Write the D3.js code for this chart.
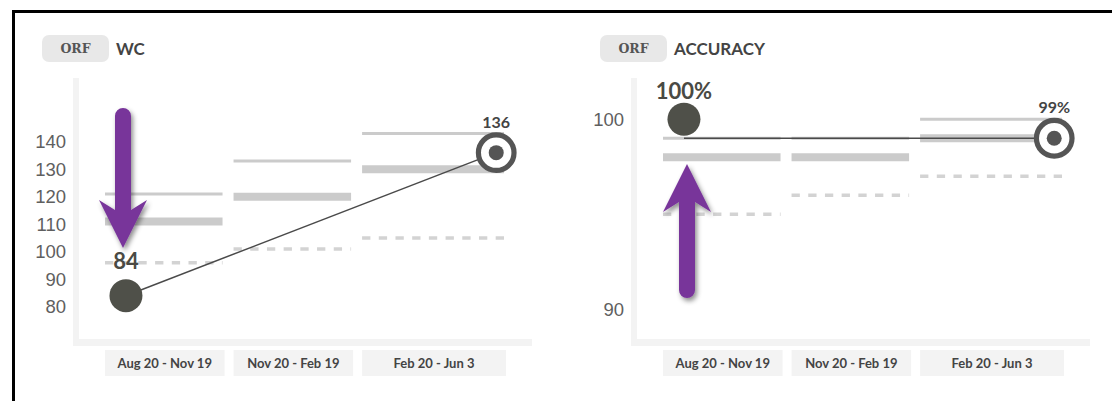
<!DOCTYPE html>
<html>
<head>
<meta charset="utf-8">
<script src="https://cdn.jsdelivr.net/npm/d3@7"></script>
<style>
  html, body { margin: 0; padding: 0; background: #fff; overflow: hidden; }
  svg { display: block; }
</style>
</head>
<body>
<div id="chart"></div>
<script>
// periods shown under both charts
const periods = ["Aug 20 - Nov 19", "Nov 20 - Feb 19", "Feb 20 - Jun 3"];
const periodStarts = ["2018-08-20", "2018-11-20", "2019-02-20"];
const periodEnd = "2019-06-03";
const scoreDates = ["2018-09-04", "2019-05-27"];

// WC (words correct) benchmarks per period
const wcHigh = [121, 133, 143];
const wcMid = [111, 120, 130];
const wcLow = [96, 101, 105];
const wcScores = [84, 136];
const wcTrend = [84, 136];
const wcTicks = [80, 90, 100, 110, 120, 130, 140];

// accuracy benchmarks per period
const accHigh = [99, 99, 100];
const accMid = [98, 98, 99];
const accLow = [95, 96, 97];
const accScores = [100, 99];
const accTrend = [99, 99];
const accTicks = [90, 100];

const width = 1112, height = 401;
const parse = d3.timeParse("%Y-%m-%d");

const svg = d3.select("#chart").append("svg")
    .attr("width", width)
    .attr("height", height);

// drop shadow for the purple arrows
const defs = svg.append("defs");
defs.append("filter")
    .attr("id", "shadow")
    .attr("x", "-50%").attr("y", "-20%")
    .attr("width", "200%").attr("height", "140%")
    .append("feDropShadow")
    .attr("dx", 2).attr("dy", 3)
    .attr("stdDeviation", 2.5)
    .attr("flood-color", "#000")
    .attr("flood-opacity", 0.45);

// frame, only left + top edges are in the picture
svg.append("path")
    .attr("d", "M13.5," + height + "V11.5H" + width)
    .attr("fill", "none")
    .attr("stroke", "#000")
    .attr("stroke-width", 3);

function drawChart(ox, cfg) {
    const g = svg.append("g").attr("transform", "translate(" + ox + ",0)");

    // header pill + title
    g.append("rect")
        .attr("x", 42).attr("y", 35)
        .attr("width", 67).attr("height", 27)
        .attr("rx", 7)
        .attr("fill", "#e8e8e8");
    g.append("text")
        .attr("x", 75.5).attr("y", 53)
        .attr("text-anchor", "middle")
        .style("font-family", "'DejaVu Serif', serif")
        .style("font-weight", "bold")
        .style("font-size", "12.5px")
        .style("fill", "#555")
        .text("ORF");
    g.append("text")
        .attr("x", 116).attr("y", 55)
        .style("font-family", "Lato, sans-serif")
        .style("font-weight", "bold")
        .style("font-size", "17px")
        .style("fill", "#444")
        .text(cfg.title);

    const x = d3.scaleTime()
        .domain([parse(periodStarts[0]), parse(periodEnd)])
        .range([105, 506]);
    const y = d3.scaleLinear()
        .domain(cfg.domain)
        .range([339, 78]);

    // axis bars
    g.append("rect")
        .attr("x", 73).attr("y", 78)
        .attr("width", 6).attr("height", 268)
        .attr("fill", "#f3f3f3");
    g.append("rect")
        .attr("x", 73).attr("y", 339)
        .attr("width", 459).attr("height", 7)
        .attr("fill", "#f3f3f3");

    // y tick labels
    g.selectAll("text.tick")
        .data(cfg.ticks)
        .enter().append("text")
        .attr("class", "tick")
        .attr("x", 66)
        .attr("y", d => y(d))
        .attr("dy", "0.36em")
        .attr("text-anchor", "end")
        .style("font-family", "'Liberation Sans', Arial, sans-serif")
        .style("font-size", "18.5px")
        .style("fill", "#5f5f5f")
        .text(d => d);

    // period extents
    const bands = periods.map(function(p, i) {
        const x0 = x(parse(periodStarts[i]));
        const x1 = i < periods.length - 1 ? x(parse(periodStarts[i + 1])) - 9 : x(parse(periodEnd));
        return { label: p, x0: x0, x1: x1, i: i };
    });

    // period label boxes
    const lab = g.selectAll("g.period")
        .data(bands)
        .enter().append("g")
        .attr("class", "period");
    lab.append("rect")
        .attr("x", d => d.x0)
        .attr("y", 350)
        .attr("width", d => d.x1 - d.x0)
        .attr("height", 26)
        .attr("fill", "#f3f3f3");
    lab.append("text")
        .attr("x", d => (d.x0 + d.x1) / 2)
        .attr("y", 367.5)
        .attr("text-anchor", "middle")
        .style("font-family", "Lato, sans-serif")
        .style("font-weight", "bold")
        .style("font-size", "13px")
        .style("fill", "#444")
        .text(d => d.label);

    // benchmark lines
    const bl = g.selectAll("g.bench")
        .data(bands)
        .enter().append("g")
        .attr("class", "bench");
    bl.append("line")
        .attr("x1", d => d.x0).attr("x2", d => d.x1 - 2)
        .attr("y1", d => y(cfg.high[d.i])).attr("y2", d => y(cfg.high[d.i]))
        .attr("stroke", "#cbcbcb")
        .attr("stroke-width", 3);
    bl.append("line")
        .attr("x1", d => d.x0).attr("x2", d => d.x1 - 2)
        .attr("y1", d => y(cfg.mid[d.i])).attr("y2", d => y(cfg.mid[d.i]))
        .attr("stroke", "#cbcbcb")
        .attr("stroke-width", 8);
    bl.append("line")
        .attr("x1", d => d.x0).attr("x2", d => d.x1 - 2)
        .attr("y1", d => y(cfg.low[d.i])).attr("y2", d => y(cfg.low[d.i]))
        .attr("stroke", "#d3d3d3")
        .attr("stroke-width", 3.5)
        .attr("stroke-dasharray", "8.3,8.4");

    // trend line
    const line = d3.line()
        .x((d, i) => x(parse(scoreDates[i])))
        .y(d => y(d));
    g.append("path")
        .datum(cfg.trend)
        .attr("d", line)
        .attr("fill", "none")
        .attr("stroke", "#4a4a4a")
        .attr("stroke-width", 1.5);

    // first score: filled dot
    const fx = x(parse(scoreDates[0])), fy = y(cfg.scores[0]);
    g.append("circle")
        .attr("cx", fx).attr("cy", fy)
        .attr("r", 16.5)
        .attr("fill", "#4f5049");
    g.append("text")
        .attr("x", fx).attr("y", fy + cfg.firstDy)
        .attr("text-anchor", "middle")
        .style("font-family", "Lato, sans-serif")
        .style("font-weight", "bold")
        .style("font-size", "22px")
        .style("fill", "#4a4a44")
        .text(cfg.fmt(cfg.scores[0]));

    // latest score: ring
    const lx = x(parse(scoreDates[1])), ly = y(cfg.scores[1]);
    g.append("circle")
        .attr("cx", lx).attr("cy", ly)
        .attr("r", 17.8)
        .attr("fill", "#fff")
        .attr("stroke", "#555")
        .attr("stroke-width", 5.2);
    g.append("circle")
        .attr("cx", lx).attr("cy", ly)
        .attr("r", 7.5)
        .attr("fill", "#555");
    g.append("text")
        .attr("x", lx).attr("y", ly - 25)
        .attr("text-anchor", "middle")
        .style("font-family", "Lato, sans-serif")
        .style("font-weight", "bold")
        .style("font-size", "16px")
        .style("fill", "#444")
        .text(cfg.fmt(cfg.scores[1]));

    // purple annotation arrow
    const a = cfg.arrow;
    g.append("path")
        .attr("d", arrowPath(a.cx, a.tail, a.tip))
        .attr("fill", "#78349a")
        .attr("filter", "url(#shadow)");
}

// arrow from tail to tip along a vertical line
function arrowPath(cx, tail, tip) {
    const dir = tip > tail ? 1 : -1;
    const hw = 8, wing = 24, headLen = 48, notch = 10;
    const wingY = tip - dir * headLen;
    const joinY = wingY + dir * notch;
    const capY = tail + dir * hw;
    const p = d3.path();
    p.moveTo(cx - hw, capY);
    p.arc(cx, capY, hw, Math.PI, 0, dir > 0 ? false : true);
    p.lineTo(cx + hw, joinY);
    p.lineTo(cx + wing, wingY);
    p.lineTo(cx, tip);
    p.lineTo(cx - wing, wingY);
    p.lineTo(cx - hw, joinY);
    p.closePath();
    return p.toString();
}

drawChart(0, {
    title: "WC",
    domain: [68.25, 163.15],
    ticks: wcTicks,
    high: wcHigh, mid: wcMid, low: wcLow,
    scores: wcScores, trend: wcTrend,
    fmt: d => d,
    firstDy: -26.5,
    arrow: { cx: 123, tail: 108, tip: 248 }
});

drawChart(558, {
    title: "ACCURACY",
    domain: [88.44, 102.17],
    ticks: accTicks,
    high: accHigh, mid: accMid, low: accLow,
    scores: accScores, trend: accTrend,
    fmt: d => d + "%",
    firstDy: -20,
    arrow: { cx: 129, tail: 298, tip: 164 }
});
</script>
</body>
</html>
